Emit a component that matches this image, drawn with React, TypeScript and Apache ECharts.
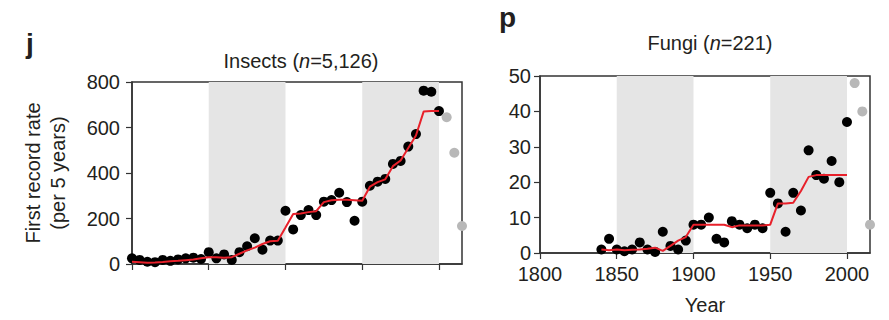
import React, { useEffect, useRef } from "react";
import * as echarts from "echarts";

// ---------- Insects (panel j) ----------
const insectYears = [
  1800, 1805, 1810, 1815, 1820, 1825, 1830, 1835, 1840, 1845,
  1850, 1855, 1860, 1865, 1870, 1875, 1880, 1885, 1890, 1895,
  1900, 1905, 1910, 1915, 1920, 1925, 1930, 1935, 1940, 1945,
  1950, 1955, 1960, 1965, 1970, 1975, 1980, 1985, 1990, 1995, 2000,
];
const insectRecords = [
  25, 18, 10, 8, 18, 14, 20, 25, 28, 22,
  52, 25, 42, 18, 52, 78, 113, 63, 103, 103,
  234, 152, 215, 237, 215, 274, 281, 313, 272, 190,
  274, 344, 362, 374, 440, 453, 516, 571, 762, 757, 672,
];
const insectFit = [
  10, 8, 6, 7, 9, 12, 14, 17, 20, 25,
  30, 30, 28, 30, 45, 60, 72, 88, 100, 102,
  160, 220, 222, 228, 232, 272, 280, 282, 282, 280,
  278, 340, 360, 372, 430, 455, 510, 565, 670, 672, 672,
];
const insectRecentYears = [2005, 2010, 2015];
const insectRecent = [645, 489, 167];

// ---------- Fungi (panel p) ----------
const fungiYears = [
  1840, 1845, 1850, 1855, 1860, 1865, 1870, 1875, 1880, 1885,
  1890, 1895, 1900, 1905, 1910, 1915, 1920, 1925, 1930, 1935,
  1940, 1945, 1950, 1955, 1960, 1965, 1970, 1975, 1980, 1985,
  1990, 1995, 2000,
];
const fungiRecords = [
  1, 4, 1, 0.5, 1, 3, 1, 0.3, 6, 2,
  1, 3.5, 8, 8, 10, 4, 3, 9, 8, 7,
  8, 7, 17, 14, 6, 17, 12, 29, 22, 21,
  26, 20, 37,
];
const fungiFit = [
  1, 0.8, 1, 0.8, 0.9, 1, 1.2, 1.5, 0.6, 2,
  3.5, 4.5, 8, 8, 8, 8, 8, 7.3, 7.8, 7.8,
  7.8, 7.8, 8, 14, 14, 14.2, 17.5, 21.5, 22, 22,
  22, 22, 22,
];
const fungiRecentYears = [2005, 2010, 2015];
const fungiRecent = [48, 40, 8];

// ---------- shared ----------
const yearTicks = [1800, 1850, 1900, 1950, 2000];
const bands = [
  [1850, 1900],
  [1950, 2000],
];
const insectTicks = [0, 200, 400, 600, 800];
const fungiTicks = [0, 10, 20, 30, 40, 50];

const FONT = "'Liberation Sans', Arial, Helvetica, sans-serif";
const TEXT = "#231f20";
const AXIS = "#333333";

function pairs(xs: number[], ys: number[]) {
  return xs.map((x, i) => [x, ys[i]]);
}

export default function App() {
  const ref = useRef<HTMLDivElement>(null);

  useEffect(() => {
    if (!ref.current) return;
    const chart = echarts.init(ref.current, null, { renderer: "svg" });

    const xAxisBase = (gridIndex: number, showLabels: boolean) => ({
      type: "value",
      gridIndex,
      min: 1800,
      max: 2015,
      interval: 50,
      splitLine: { show: false },
      axisLine: { show: true, lineStyle: { color: AXIS, width: 1.5 } },
      axisTick: {
        show: true,
        length: 6,
        customValues: yearTicks,
        lineStyle: { color: AXIS, width: 1.2 },
      },
      axisLabel: {
        show: showLabels,
        customValues: yearTicks,
        formatter: (v: number) => String(v),
        margin: 11,
        fontSize: 20,
        color: TEXT,
        fontFamily: FONT,
      },
    });

    const bandArea = {
      silent: true,
      itemStyle: { color: "#e5e5e5" },
      data: bands.map((b) => [{ xAxis: b[0] }, { xAxis: b[1] }]),
    };

    const rich = {
      a: { fontSize: 20, color: TEXT, fontFamily: FONT, fontWeight: "normal" },
      i: { fontSize: 20, color: TEXT, fontFamily: FONT, fontStyle: "italic", fontWeight: "normal" },
    };

    const option: any = {
      animation: false,
      backgroundColor: "#ffffff",
      title: [
        {
          text: "j",
          left: 21,
          top: 24,
          textStyle: { fontSize: 28, fontWeight: "bold", color: TEXT, fontFamily: FONT },
        },
        {
          text: "p",
          left: 494,
          top: -2,
          textStyle: { fontSize: 28, fontWeight: "bold", color: TEXT, fontFamily: FONT },
        },
        {
          text: "{a|Insects (}{i|n}{a|=5,126)}",
          left: 296,
          top: 46,
          textAlign: "center",
          textStyle: { fontWeight: "normal", rich },
        },
        {
          text: "{a|Fungi (}{i|n}{a|=221)}",
          left: 705,
          top: 28,
          textAlign: "center",
          textStyle: { fontWeight: "normal", rich },
        },
      ],
      grid: [
        {
          left: 132,
          top: 82,
          width: 330,
          height: 182,
          show: true,
          borderColor: AXIS,
          borderWidth: 1.5,
          backgroundColor: "transparent",
        },
        {
          left: 540,
          top: 76,
          width: 330,
          height: 179,
          show: true,
          borderColor: AXIS,
          borderWidth: 1.5,
          backgroundColor: "transparent",
        },
      ],
      xAxis: [
        xAxisBase(0, false),
        {
          ...xAxisBase(1, true),
          name: "Year",
          nameLocation: "middle",
          nameGap: 42,
          nameTextStyle: { fontSize: 20, color: TEXT, fontFamily: FONT },
        },
      ],
      yAxis: [
        {
          type: "value",
          gridIndex: 0,
          min: 0,
          max: 800,
          interval: 200,
          name: "First record rate\n(per 5 years)",
          nameLocation: "middle",
          nameGap: 62,
          nameTextStyle: { fontSize: 20, lineHeight: 25, color: TEXT, fontFamily: FONT },
          splitLine: { show: false },
          axisLine: { show: true, lineStyle: { color: AXIS, width: 1.5 } },
          axisTick: { show: true, length: 6, lineStyle: { color: AXIS, width: 1.2 } },
          axisLabel: {
            margin: 12,
            fontSize: 20,
            color: TEXT,
            fontFamily: FONT,
            customValues: insectTicks,
          },
        },
        {
          type: "value",
          gridIndex: 1,
          min: 0,
          max: 50,
          interval: 10,
          splitLine: { show: false },
          axisLine: { show: true, lineStyle: { color: AXIS, width: 1.5 } },
          axisTick: { show: true, length: 6, lineStyle: { color: AXIS, width: 1.2 } },
          axisLabel: {
            margin: 9,
            fontSize: 20,
            color: TEXT,
            fontFamily: FONT,
            customValues: fungiTicks,
          },
        },
      ],
      series: [
        // Insects
        {
          type: "scatter",
          name: "Insects records",
          xAxisIndex: 0,
          yAxisIndex: 0,
          symbolSize: 10,
          itemStyle: { color: "#000000", opacity: 1 },
          data: pairs(insectYears, insectRecords),
          markArea: bandArea,
          z: 2,
        },
        {
          type: "scatter",
          name: "Insects recent",
          xAxisIndex: 0,
          yAxisIndex: 0,
          symbolSize: 10,
          itemStyle: { color: "#b8b8b8", opacity: 1 },
          data: pairs(insectRecentYears, insectRecent),
          z: 2,
        },
        {
          type: "line",
          name: "Insects fit",
          xAxisIndex: 0,
          yAxisIndex: 0,
          showSymbol: false,
          symbol: "none",
          lineStyle: { color: "#e8202a", width: 2 },
          data: pairs(insectYears, insectFit),
          z: 3,
        },
        // Fungi
        {
          type: "scatter",
          name: "Fungi records",
          xAxisIndex: 1,
          yAxisIndex: 1,
          symbolSize: 10,
          itemStyle: { color: "#000000", opacity: 1 },
          data: pairs(fungiYears, fungiRecords),
          markArea: bandArea,
          z: 2,
        },
        {
          type: "scatter",
          name: "Fungi recent",
          xAxisIndex: 1,
          yAxisIndex: 1,
          symbolSize: 10,
          itemStyle: { color: "#b8b8b8", opacity: 1 },
          data: pairs(fungiRecentYears, fungiRecent),
          z: 2,
        },
        {
          type: "line",
          name: "Fungi fit",
          xAxisIndex: 1,
          yAxisIndex: 1,
          showSymbol: false,
          symbol: "none",
          lineStyle: { color: "#e8202a", width: 2 },
          data: pairs(fungiYears, fungiFit),
          z: 3,
        },
      ],
    };

    chart.setOption(option);
    return () => chart.dispose();
  }, []);

  return (
    <div
      ref={ref}
      style={{ position: "fixed", left: 0, top: 0, width: 889, height: 320 }}
    />
  );
}
